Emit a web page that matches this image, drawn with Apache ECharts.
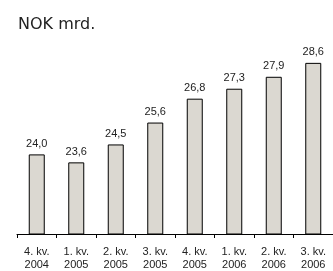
<!DOCTYPE html>
<html><head><meta charset="utf-8">
<script src="https://cdn.jsdelivr.net/npm/echarts@6/dist/echarts.min.js"></script>
<style>html,body{margin:0;padding:0;background:#fff}#c{width:333px;height:271px}</style>
</head><body><div id="c"></div>
<script>
const categories = ["4. kv.\n2004","1. kv.\n2005","2. kv.\n2005","3. kv.\n2005","4. kv.\n2005","1. kv.\n2006","2. kv.\n2006","3. kv.\n2006"];
const values = [24.0, 23.6, 24.5, 25.6, 26.8, 27.3, 27.9, 28.6];
const titleText = "NOK mrd.";
const chart = echarts.init(document.getElementById('c'), null, {renderer:'canvas'});
chart.setOption({
  animation:false,
  backgroundColor:'#fff',
  title:{text:titleText,left:13,top:12,textStyle:{fontFamily:'DejaVu Sans',fontSize:16,fontWeight:'normal',color:'#222'}},
  grid:{left:17,right:-3,top:35,bottom:36,containLabel:false},
  xAxis:{type:'category',data:categories,boundaryGap:true,
    axisLine:{lineStyle:{color:'#000',width:1}},
    axisTick:{show:true,length:4,lineStyle:{color:'#000'},alignWithLabel:false},
    axisLabel:{fontFamily:'Liberation Sans',fontSize:11,color:'#222',lineHeight:13,margin:11,interval:0}},
  yAxis:{type:'value',min:20,max:30,show:false,splitLine:{show:false}},
  series:[{type:'bar',data:values,barWidth:16,
    itemStyle:{color:'#dbd8d1',borderColor:'#000',borderWidth:1},
    label:{show:true,position:'top',distance:5,fontFamily:'Liberation Sans',fontSize:11,color:'#222',
      formatter:p=>p.value.toFixed(1).replace('.',',')}}]
});
</script></body></html>
